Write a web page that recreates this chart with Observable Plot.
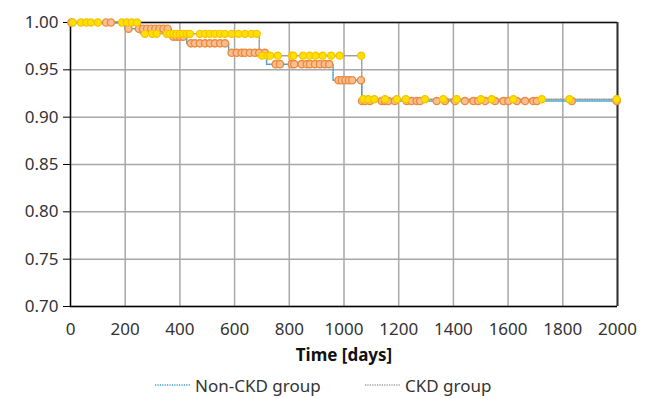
<!DOCTYPE html>
<html><head><meta charset="utf-8">
<script src="https://cdn.jsdelivr.net/npm/d3@7"></script>
<script src="https://cdn.jsdelivr.net/npm/@observablehq/plot@0.6"></script>
<style>
body{margin:0;background:#fff;font-family:"Noto Sans",sans-serif;}
#wrap{position:relative;width:650px;height:398px;}
#legend{position:absolute;left:0;top:372px;width:650px;height:26px;font-size:17px;color:#333;}
#legend .item{position:absolute;top:0;display:flex;align-items:center;height:26px;}
#legend svg{margin-right:4px;}
</style></head><body>
<div id="wrap"><div id="chart"></div><div id="legend"></div></div>
<script>
// Kaplan–Meier step values
const nonCkdStepDays = [0, 199, 368, 425, 578, 717, 960, 1065, 2000];
const nonCkdStepSurv = [1.000, 0.9934, 0.985, 0.978, 0.968, 0.956, 0.939, 0.917, 0.917];
const ckdStepDays = [0, 255, 690, 1065, 2000];
const ckdStepSurv = [1.000, 0.988, 0.965, 0.919, 0.919];

// censored observations (days)
const nonCkdCensorDays = [3, 130, 148, 212, 250, 265, 280, 295, 310, 325, 340, 355,
  376, 388, 400, 412, 440, 455, 473, 492, 510, 528, 547, 565,
  589, 608, 626, 638, 656, 674, 690, 711,
  750, 766, 809, 818, 845, 864, 876, 894, 912, 930, 946,
  980, 992, 1005, 1018, 1030, 1062,
  1066, 1077, 1095, 1138, 1150, 1162, 1186, 1229, 1247, 1266, 1278, 1339, 1369,
  1406, 1442, 1473, 1491, 1516, 1552, 1583, 1601, 1632, 1662, 1692, 1705, 1833, 1997];
const ckdCensorDays = [8, 38, 58, 75, 100, 188, 206, 224, 243,
  272, 299, 315, 352, 364, 376, 388, 400, 412, 425, 437, 473, 492, 510, 528, 547, 565, 589, 614, 638, 662, 681,
  700, 720, 730, 758, 809, 815, 850, 874, 896, 922, 953, 984, 1063,
  1071, 1089, 1111, 1150, 1193, 1226, 1296, 1363, 1412, 1501, 1540, 1619, 1723, 1824, 1997];

const xTicks = [0, 200, 400, 600, 800, 1000, 1200, 1400, 1600, 1800, 2000];
const yTicks = [0.70, 0.75, 0.80, 0.85, 0.90, 0.95, 1.00];
const xLabel = "Time [days]";
const seriesNames = ["Non-CKD group", "CKD group"];

function survAt(days, surv, t) {
  let s = surv[0];
  for (let i = 0; i < days.length; i++) if (days[i] <= t) s = surv[i];
  return s;
}
const nonCkdSteps = nonCkdStepDays.map((d, i) => ({day: d, s: nonCkdStepSurv[i]}));
const ckdSteps = ckdStepDays.map((d, i) => ({day: d, s: ckdStepSurv[i]}));
const nonCkdCens = nonCkdCensorDays.map(d => ({day: d, s: survAt(nonCkdStepDays, nonCkdStepSurv, d)}));
const ckdCens = ckdCensorDays.map(d => ({day: d, s: survAt(ckdStepDays, ckdStepSurv, d)}));

const blue = "#3b9fd4", gray = "#9a9a9a";
const chart = Plot.plot({
  width: 650, height: 372,
  marginTop: 22, marginBottom: 66, marginLeft: 70, marginRight: 33,
  style: {fontFamily: "'Noto Sans', sans-serif", fontSize: "17px", color: "#333", background: "#fff"},
  x: {domain: [0, 2000]},
  y: {domain: [0.70, 1.00]},
  marks: [
    Plot.gridX(xTicks, {stroke: "#a8a8a8", strokeOpacity: 1, strokeWidth: 1.5}),
    Plot.gridY(yTicks, {stroke: "#a8a8a8", strokeOpacity: 1, strokeWidth: 1.5}),
    Plot.ruleY([1.00], {stroke: "#111", strokeWidth: 1.6}),
    Plot.ruleX([2000], {stroke: "#333", strokeWidth: 2}),
    Plot.ruleX([0], {stroke: "#000", strokeWidth: 1.4}),
    Plot.ruleY([0.70], {stroke: "#000", strokeWidth: 1.4}),
    Plot.axisY(yTicks, {tickFormat: d3.format(".2f"), tickSize: 7, tickPadding: 5, fontSize: 17, label: null, stroke: "#000"}),
    Plot.axisX(xTicks, {tickFormat: d3.format("d"), tickSize: 0, tickPadding: 16, fontSize: 17, label: null}),
    Plot.text([xLabel], {frameAnchor: "bottom", dy: 54, fontSize: 17, fontWeight: "bold", fill: "#111"}),
    Plot.line(ckdSteps, {x: "day", y: "s", curve: "step-after", stroke: gray, strokeWidth: 1.5, strokeDasharray: "1.2,1.2"}),
    Plot.line(nonCkdSteps, {x: "day", y: "s", curve: "step-after", stroke: blue, strokeWidth: 1.5, strokeDasharray: "1.2,1.2"}),
    Plot.dot(nonCkdCens, {x: "day", y: "s", r: 3.6, fill: "#f9bf94", stroke: "#ee8a3e", strokeWidth: 1.4}),
    Plot.dot(ckdCens, {x: "day", y: "s", r: 3.6, fill: "#ffe000", stroke: "#f5c200", strokeWidth: 1.2})
  ]
});
document.getElementById("chart").append(chart);

const legend = document.getElementById("legend");
const legendX = [155, 365];
const legendColors = [blue, gray];
seriesNames.forEach((name, i) => {
  const item = document.createElement("div");
  item.className = "item";
  item.style.left = legendX[i] + "px";
  item.innerHTML = `<svg width="36" height="6"><line x1="0" x2="36" y1="3" y2="3" stroke="${legendColors[i]}" stroke-width="1.5" stroke-dasharray="1.2,1.2"/></svg><span>${name}</span>`;
  legend.append(item);
});
</script>
</body></html>
